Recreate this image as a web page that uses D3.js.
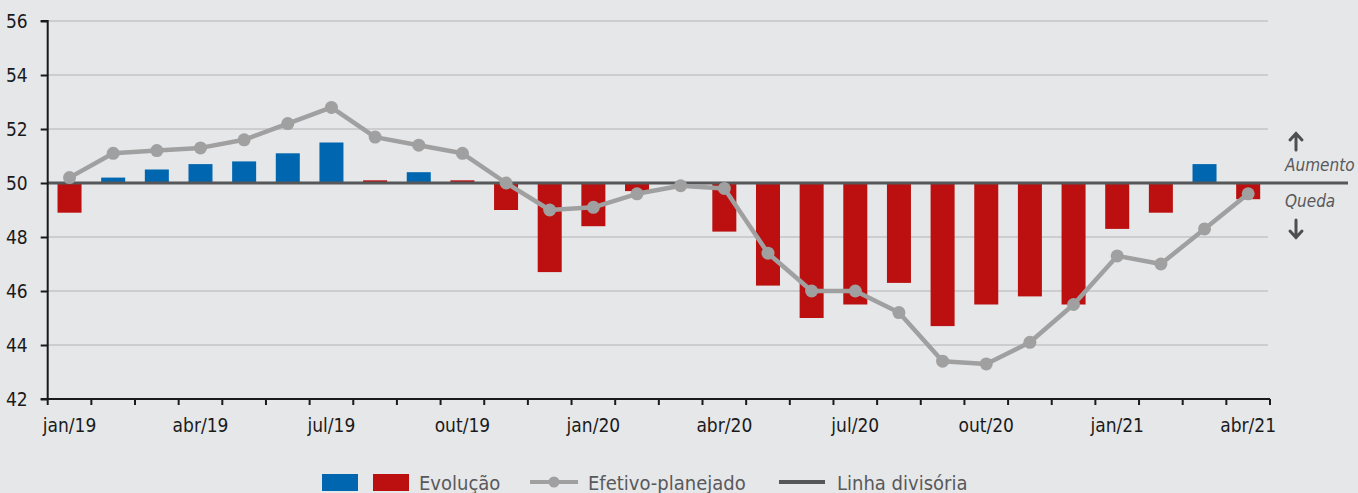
<!DOCTYPE html>
<html>
<head>
<meta charset="utf-8">
<script src="https://cdn.jsdelivr.net/npm/d3@7"></script>
<style>
  html, body { margin: 0; padding: 0; background: #e6e7e9; }
  svg { display: block; }
  text { font-family: "Liberation Sans Narrow", "DejaVu Sans Condensed", "Roboto", sans-serif; }
</style>
</head>
<body>
<svg id="chart" width="1358" height="493"></svg>
<script>
const months = ["jan/19","fev/19","mar/19","abr/19","mai/19","jun/19","jul/19","ago/19","set/19","out/19","nov/19","dez/19",
                "jan/20","fev/20","mar/20","abr/20","mai/20","jun/20","jul/20","ago/20","set/20","out/20","nov/20","dez/20",
                "jan/21","fev/21","mar/21","abr/21"];
const tickLabels = ["jan/19","abr/19","jul/19","out/19","jan/20","abr/20","jul/20","out/20","jan/21","abr/21"];
const evolucao = [48.9, 50.2, 50.5, 50.7, 50.8, 51.1, 51.5, 50.1, 50.4, 50.1, 49.0, 46.7,
                  48.4, 49.7, 50.0, 48.2, 46.2, 45.0, 45.5, 46.3, 44.7, 45.5, 45.8, 45.5,
                  48.3, 48.9, 50.7, 49.4];
const evolucaoTipo = ["queda","aumento","aumento","aumento","aumento","aumento","aumento","queda","aumento","queda","queda","queda",
                      "queda","queda","queda","queda","queda","queda","queda","queda","queda","queda","queda","queda",
                      "queda","queda","aumento","queda"];
const efetivoPlanejado = [50.2, 51.1, 51.2, 51.3, 51.6, 52.2, 52.8, 51.7, 51.4, 51.1, 50.0, 49.0,
                          49.1, 49.6, 49.9, 49.8, 47.4, 46.0, 46.0, 45.2, 43.4, 43.3, 44.1, 45.5,
                          47.3, 47.0, 48.3, 49.6];
const yTicks = [42, 44, 46, 48, 50, 52, 54, 56];
const linhaDivisoria = 50;
const legendLabels = ["Evolução", "Efetivo-planejado", "Linha divisória"];
const sideLabels = ["Aumento", "Queda"];

const svg = d3.select("#chart");
const mLeft = 47.7, mRight = 1270, mTop = 21, mBottom = 399;
const colors = { aumento: "#0066b0", queda: "#bc1010" };

const x = d3.scaleBand().domain(months).range([mLeft, mRight]).paddingInner(0.45).paddingOuter(0.225);
const xTick = d3.scaleLinear().domain([0, months.length]).range([mLeft, mRight]);
const y = d3.scaleLinear().domain([42, 56]).range([mBottom, mTop]);

// grid
svg.append("g").selectAll("line").data(yTicks.filter(d => d !== 42 && d !== 50)).join("line")
  .attr("x1", mLeft).attr("x2", 1268).attr("y1", d => y(d)).attr("y2", d => y(d))
  .attr("stroke", "#c4c5c7").attr("stroke-width", 1.3);

// bars
svg.append("g").selectAll("rect").data(evolucao).join("rect")
  .attr("x", (d, i) => x(months[i]))
  .attr("width", x.bandwidth())
  .attr("y", d => y(Math.max(d, linhaDivisoria)))
  .attr("height", d => Math.abs(y(d) - y(linhaDivisoria)))
  .attr("fill", (d, i) => colors[evolucaoTipo[i]]);

// divider
svg.append("line").attr("x1", mLeft).attr("x2", 1348)
  .attr("y1", y(linhaDivisoria)).attr("y2", y(linhaDivisoria))
  .attr("stroke", "#555759").attr("stroke-width", 3);

// y axis
const yAxis = d3.axisLeft(y).tickValues(yTicks).tickSize(7).tickPadding(13).tickFormat(d3.format("d"));
const gy = svg.append("g").attr("transform", `translate(${mLeft},0)`).call(yAxis);
gy.select(".domain").attr("stroke", "#1a1a1a").attr("stroke-width", 2).attr("d", `M-7,${mTop}H0V${mBottom}`);
gy.selectAll(".tick line").attr("stroke", "#1a1a1a").attr("stroke-width", 2);
gy.selectAll("text").attr("font-size", 19).attr("fill", "#1a1a1a");

// x axis
const gx = svg.append("g").attr("transform", `translate(0,${mBottom})`);
gx.append("line").attr("x1", mLeft - 7).attr("x2", mRight).attr("y1", 0).attr("y2", 0)
  .attr("stroke", "#1a1a1a").attr("stroke-width", 2);
gx.selectAll("line.t").data(d3.range(months.length + 1)).join("line").attr("class", "t")
  .attr("x1", d => xTick(d)).attr("x2", d => xTick(d)).attr("y1", 0).attr("y2", 6)
  .attr("stroke", "#1a1a1a").attr("stroke-width", 2);
gx.selectAll("text").data(tickLabels).join("text")
  .attr("x", d => x(d) + x.bandwidth() / 2).attr("y", 33)
  .attr("text-anchor", "middle").attr("font-size", 19).attr("fill", "#1a1a1a").text(d => d);

// efetivo-planejado line
const line = d3.line().x((d, i) => x(months[i]) + x.bandwidth() / 2).y(d => y(d));
svg.append("path").datum(efetivoPlanejado).attr("d", line)
  .attr("fill", "none").attr("stroke", "#a0a0a0").attr("stroke-width", 4.5).attr("stroke-linejoin", "round");
svg.append("g").selectAll("circle").data(efetivoPlanejado).join("circle")
  .attr("cx", (d, i) => x(months[i]) + x.bandwidth() / 2).attr("cy", d => y(d)).attr("r", 6.5)
  .attr("fill", "#a0a0a0");

// side annotations
const side = svg.append("g").attr("fill", "#58595b");
side.append("text").attr("x", 1285).attr("y", 171).attr("font-size", 17).attr("font-style", "italic").text(sideLabels[0]);
side.append("text").attr("x", 1285).attr("y", 207).attr("font-size", 17).attr("font-style", "italic").text(sideLabels[1]);
const arrowColor = "#4d4e50";
svg.append("path").attr("d", "M1296,150V134M1290,140L1296,133.5L1302,140")
  .attr("fill", "none").attr("stroke", arrowColor).attr("stroke-width", 3).attr("stroke-linecap", "round");
svg.append("path").attr("d", "M1296,220V237M1290,231L1296,237.5L1302,231")
  .attr("fill", "none").attr("stroke", arrowColor).attr("stroke-width", 3).attr("stroke-linecap", "round");

// legend
const lg = svg.append("g");
lg.append("rect").attr("x", 322).attr("y", 474).attr("width", 36).attr("height", 17).attr("fill", colors.aumento);
lg.append("rect").attr("x", 373).attr("y", 474).attr("width", 36).attr("height", 17).attr("fill", colors.queda);
lg.append("text").attr("x", 419).attr("y", 490).attr("font-size", 20).attr("fill", "#58595b").text(legendLabels[0]);
lg.append("line").attr("x1", 530).attr("x2", 578).attr("y1", 482).attr("y2", 482).attr("stroke", "#a0a0a0").attr("stroke-width", 4);
lg.append("circle").attr("cx", 554).attr("cy", 482).attr("r", 5.5).attr("fill", "#a0a0a0");
lg.append("text").attr("x", 588).attr("y", 490).attr("font-size", 20).attr("fill", "#58595b").text(legendLabels[1]);
lg.append("line").attr("x1", 779).attr("x2", 825).attr("y1", 482).attr("y2", 482).attr("stroke", "#555759").attr("stroke-width", 4);
lg.append("text").attr("x", 837).attr("y", 490).attr("font-size", 20).attr("fill", "#58595b").text(legendLabels[2]);
</script>
</body>
</html>
